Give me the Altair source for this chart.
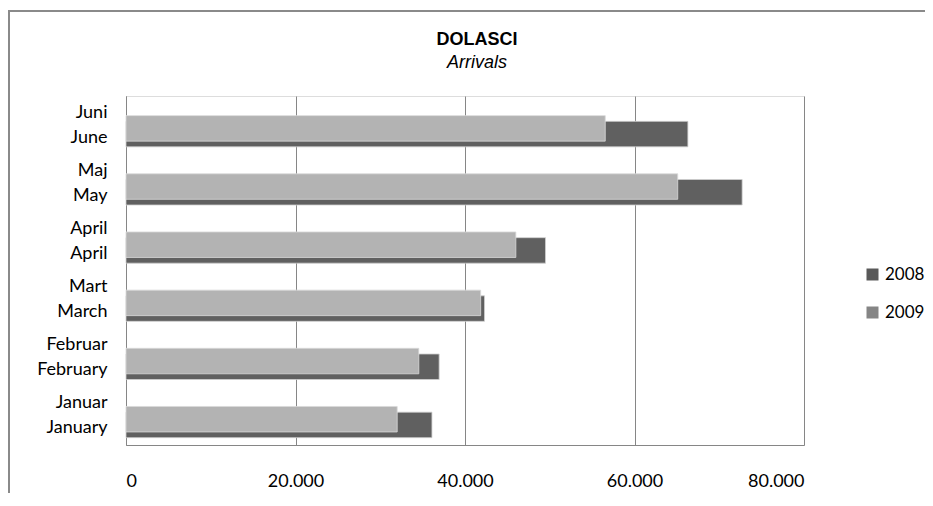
import altair as alt
import pandas as pd

# ---- data ----
months = ["Januar|January", "Februar|February", "Mart|March",
          "April|April", "Maj|May", "Juni|June"]
arrivals_2008 = [36100, 36950, 42300, 49500, 72700, 66300]
arrivals_2009 = [32000, 34550, 41850, 46000, 65100, 56550]
years = ["2008", "2009"]
x_ticks = [0, 20000, 40000, 60000, 80000]

rows = []
for m, a, b in zip(months, arrivals_2008, arrivals_2009):
    rows.append({"month": m, "year": "2008", "value": a})
    rows.append({"month": m, "year": "2009", "value": b})
df = pd.DataFrame(rows)

order = months[::-1]
FONT = "Lato"
GRID = "#868686"

x_enc = alt.X(
    "value:Q",
    scale=alt.Scale(domain=[0, 80000], nice=False),
    axis=alt.Axis(
        values=x_ticks,
        labelExpr="replace(format(datum.value, ',.0f'), ',', '.')",
        title=None, grid=True, gridColor=GRID, gridWidth=1,
        domainColor=GRID, ticks=False, labelPadding=27,
        labelFont=FONT, labelFontSize=18, labelColor="#000",
    ),
)
y_enc = alt.Y(
    "month:N", sort=order,
    scale=alt.Scale(paddingInner=0, paddingOuter=0),
    axis=alt.Axis(
        title=None, labelExpr="split(datum.label, '|')",
        labelLineHeight=25, labelOffset=-12.5, ticks=False,
        domainColor=GRID, grid=False,
        labelPadding=19, labelFont=FONT, labelFontSize=18, labelColor="#000",
    ),
)

base = alt.Chart(df).encode(x=x_enc, y=y_enc)

dark = base.transform_filter(alt.datum.year == "2008").mark_bar(
    size=25.5, yOffset=9, color="#606060", stroke="#cfcfcf", strokeWidth=0.8
)
light = base.transform_filter(alt.datum.year == "2009").mark_bar(
    size=25.5, yOffset=3.3, color="#b3b3b3", stroke="#d9d9d9", strokeWidth=0.8
)

legend_layer = alt.Chart(pd.DataFrame({"year": years})).mark_square(opacity=0).encode(
    x=alt.value(0), y=alt.value(0),
    color=alt.Color(
        "year:N",
        scale=alt.Scale(domain=years, range=["#595959", "#858585"]),
        legend=alt.Legend(
            orient="none", legendX=738, legendY=170, title=None,
            symbolType="square", symbolSize=144, symbolStrokeWidth=0,
            symbolOpacity=1, labelFont=FONT, labelFontSize=17,
            labelColor="#000", rowPadding=20, labelOffset=4, padding=0,
        ),
    ),
)

frame_df = pd.DataFrame({"a": [0]})
border_left = alt.Chart(frame_df).mark_rule(color="#8a8a8a", strokeWidth=2).encode(
    x=alt.value(-117), y=alt.value(-85), y2=alt.value(420)
)
border_top = alt.Chart(frame_df).mark_rule(color="#8a8a8a", strokeWidth=2).encode(
    x=alt.value(-118), x2=alt.value(815), y=alt.value(-85)
)

chart = alt.layer(dark, light, legend_layer, border_left, border_top).properties(
    width=678, height=349,
    autosize=alt.AutoSizeParams(type="none"),
    padding={"left": 118, "top": 88, "right": 121, "bottom": 48},
    title=alt.Title(
        "DOLASCI", subtitle="Arrivals",
        font="Liberation Sans", fontSize=18, fontWeight="bold", color="#000",
        subtitleFont="Liberation Sans", subtitleFontSize=18,
        subtitleFontStyle="italic", subtitleColor="#000",
        anchor="middle", frame="group", dx=12, offset=-62, subtitlePadding=5,
    ),
).configure_view(stroke="transparent").configure(background="white")

chart.save("out.html", embed_options={"renderer": "svg", "actions": False})
